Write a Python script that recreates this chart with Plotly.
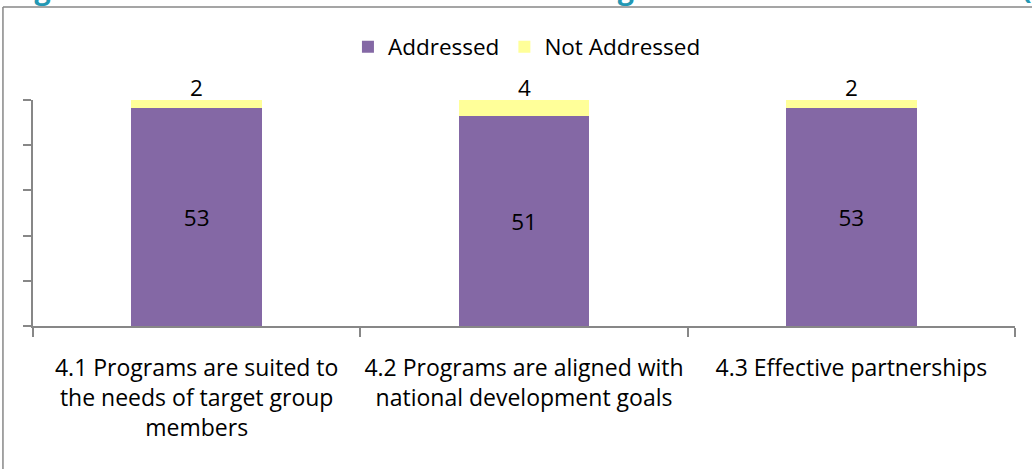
import plotly.graph_objects as go

categories = [
    "4.1 Programs are suited to<br>the needs of target group<br>members",
    "4.2 Programs are aligned with<br>national development goals<br> ",
    "4.3 Effective partnerships<br> <br> ",
]
addressed = [53, 51, 53]
not_addressed = [2, 4, 2]
series_names = ["Addressed", "Not Addressed"]
title_text = "Figure 6: Number of Evaluations Addressing Sub-Criteria for Relevance (n=55)"

PURPLE = "#8468A5"
YELLOW = "#FFFF99"
GRAY = "#878787"
FONT = "Open Sans"

totals = [a + b for a, b in zip(addressed, not_addressed)]

fig = go.Figure()
fig.add_trace(go.Bar(
    x=categories, y=addressed, name=series_names[0],
    marker=dict(color=PURPLE, line=dict(width=0)),
    text=[str(v) for v in addressed], textposition="inside",
    insidetextanchor="middle", textangle=0,
    textfont=dict(family=FONT, size=22.5, color="#000000"),
    width=0.4,
))
fig.add_trace(go.Bar(
    x=categories, y=not_addressed, name=series_names[1],
    marker=dict(color=YELLOW, line=dict(width=0)),
    width=0.4,
))

# labels of the small "Not Addressed" segments, just above each stack
for cat, tot, v in zip(categories, totals, not_addressed):
    fig.add_annotation(
        x=cat, y=tot, xref="x", yref="y", text=str(v), showarrow=False,
        yanchor="bottom", yshift=-5,
        font=dict(family=FONT, size=22.5, color="#000000"),
    )

fig.update_layout(
    barmode="stack",
    width=1032, height=469, autosize=False,
    margin=dict(l=33, r=17, t=100, b=143, autoexpand=False),
    paper_bgcolor="white", plot_bgcolor="white",
    font=dict(family=FONT, size=22.5, color="#000000"),
    showlegend=True,
    legend=dict(orientation="h", x=0.503, xanchor="center", y=1.2345,
                yanchor="middle", font=dict(family=FONT, size=22.5),
                traceorder="normal", bgcolor="rgba(0,0,0,0)"),
)

fig.update_xaxes(
    type="category", showline=True, linecolor=GRAY, linewidth=1.5,
    ticks="outside", tickson="boundaries", ticklen=9, tickwidth=1.5,
    tickcolor=GRAY, showgrid=False, zeroline=False, tickangle=0,
    automargin=False,
    tickfont=dict(family=FONT, size=23, color="#000000"),
    ticklabelstandoff=21,
)
fig.update_yaxes(
    range=[0, 55], dtick=11, showline=True, linecolor=GRAY, linewidth=1.5,
    ticks="outside", ticklen=8, tickwidth=1.5, tickcolor=GRAY,
    showticklabels=False, showgrid=False, zeroline=False, automargin=False,
)

# outer chart frame (left and top edges visible)
fig.add_shape(type="line", xref="paper", yref="paper",
              x0=-0.0306, x1=-0.0306, y0=-0.7, y1=1.4115,
              line=dict(color=GRAY, width=1.5))
fig.add_shape(type="line", xref="paper", yref="paper",
              x0=-0.0306, x1=1.1, y0=1.4115, y1=1.4115,
              line=dict(color=GRAY, width=1.5))

# title, mostly cut off at the top of the picture (as in the reference)
fig.add_annotation(
    text="<b>" + title_text + "</b>", xref="paper", yref="paper",
    x=(8 - 33) / 982, xanchor="left", y=1.401, yanchor="bottom",
    showarrow=False, font=dict(family=FONT, size=28.7, color="#2398B4"),
)

fig.write_html("out.html", config={"displayModeBar": False},
               post_script="document.body.style.margin='0';")
